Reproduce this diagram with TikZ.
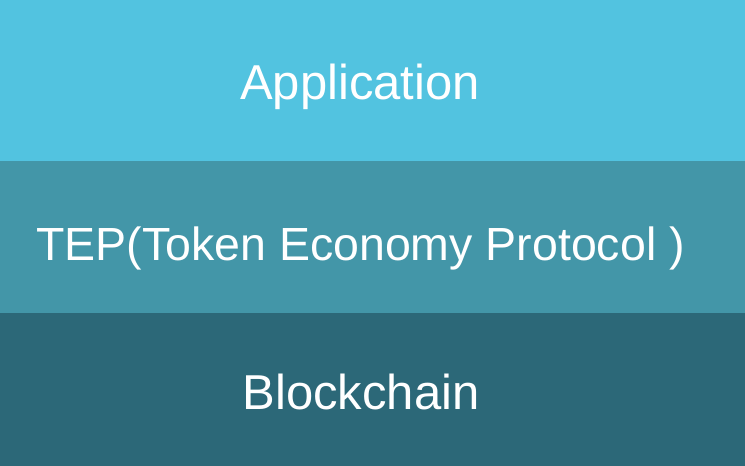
\documentclass[tikz,border=0pt]{standalone}
\usepackage{fontspec}
\setmainfont{Liberation Sans}
\definecolor{appblue}{HTML}{52C3E0}
\definecolor{tepblue}{HTML}{4396A8}
\definecolor{chainblue}{HTML}{2C6878}
\begin{document}
\begin{tikzpicture}[x=1pt, y=1pt,
    layer/.style={text=white, anchor=base, inner sep=0pt,
        font=\fontsize{49}{56}\selectfont}]
    \useasboundingbox (0,0) rectangle (745,-466);
    % bands
    \fill[appblue] (0,0) rectangle (745,-160.5);
    \fill[tepblue] (0,-160.5) rectangle (745,-313);
    \fill[chainblue] (0,-313) rectangle (745,-466);
    % labels
    \node[layer] (app) at (360,-99.3) {Application};
    \node[layer, font=\fontsize{46.5}{54}\selectfont] (tep) at (360.5,-260)
        {TEP(Token Economy Protocol )};
    \node[layer] (chain) at (361,-409.3) {Blockchain};
\end{tikzpicture}
\end{document}
